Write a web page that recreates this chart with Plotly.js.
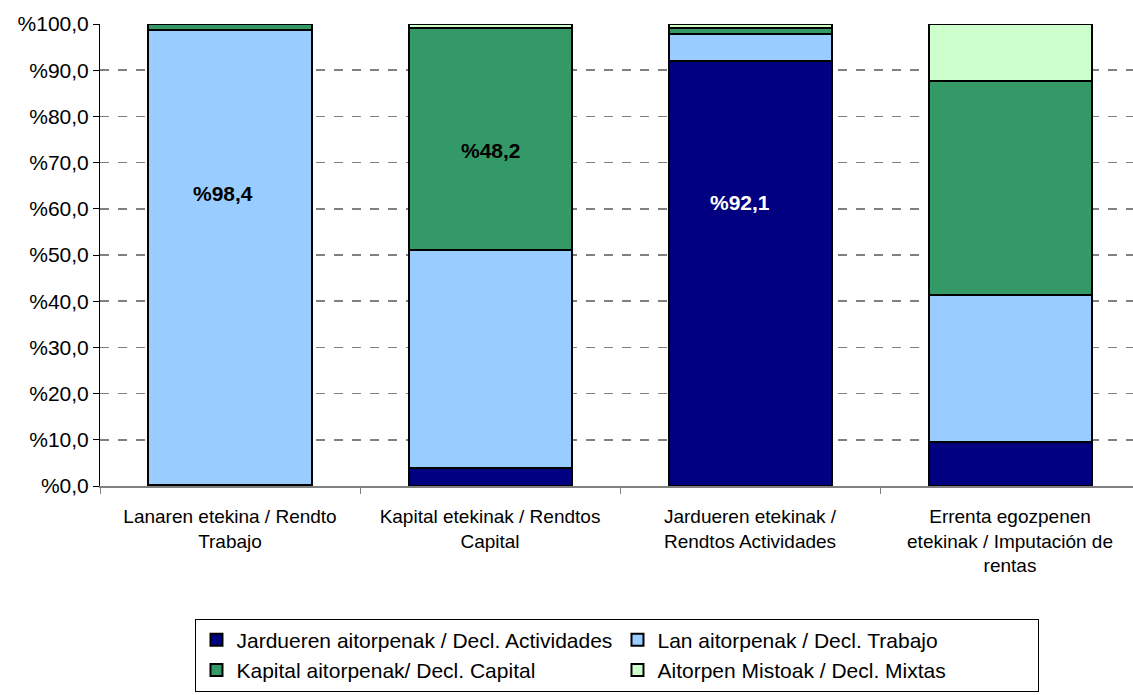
<!DOCTYPE html>
<html>
<head>
<meta charset="utf-8">
<script src="https://cdn.plot.ly/plotly-3.0.1.min.js"></script>
<style>
  html, body { margin: 0; padding: 0; background: #fff; }
  #plot { width: 1133px; height: 695px; }
</style>
</head>
<body>
<div id="plot"></div>
<script>
// Categorías (etiquetas del eje X)
const categories = [
    'Lanaren etekina / Rendto<br>Trabajo',
    'Kapital etekinak / Rendtos<br>Capital',
    'Jardueren etekinak /<br>Rendtos Actividades',
    'Errenta egozpenen<br>etekinak / Imputación de<br>rentas'
];

// Porcentajes por tipo de declaración
const declActividades = [0.3, 3.9, 92.1, 9.6];
const declTrabajo = [98.4, 47.1, 5.7, 31.7];
const declCapital = [1.3, 48.2, 1.3, 46.3];
const declMixtas = [0.0, 0.8, 0.9, 12.4];

const seriesNames = [
    'Jardueren aitorpenak / Decl. Actividades',
    'Lan aitorpenak / Decl. Trabajo',
    'Kapital aitorpenak/ Decl. Capital',
    'Aitorpen Mistoak / Decl. Mixtas'
];

// Etiquetas destacadas dentro de las barras
const labelCats = [0, 1, 2];
const labelValues = [98.4, 48.2, 92.1];

const yTickVals = [0, 10, 20, 30, 40, 50, 60, 70, 80, 90, 100];
const yTickText = yTickVals.map(v => '%' + v.toFixed(1).replace('.', ','));

const FONT = 'Liberation Sans, Arial, sans-serif';
const colors = ['#000080', '#99CCFF', '#339966', '#CCFFCC'];
const seriesValues = [declActividades, declTrabajo, declCapital, declMixtas];

const data = seriesValues.map((vals, i) => ({
    type: 'bar',
    x: categories,
    y: vals,
    name: seriesNames[i],
    marker: { color: colors[i], line: { color: '#000', width: 2 } },
    hoverinfo: 'skip'
}));

// posición aproximada de cada etiqueta como en el original
const labelY = [63.4, 72.7, 61.3];
const labelShift = [-7, 1, -10];
const labelColor = ['#000', '#000', '#fff'];

const annotations = labelCats.map((c, i) => ({
    x: categories[c],
    y: labelY[i],
    xshift: labelShift[i],
    text: '<b>%' + labelValues[i].toFixed(1).replace('.', ',') + '</b>',
    showarrow: false,
    font: { family: FONT, size: 21, color: labelColor[i] }
}));

const layout = {
    width: 1133,
    height: 695,
    margin: { l: 100, r: 0, t: 24, b: 209 },
    paper_bgcolor: '#fff',
    plot_bgcolor: '#fff',
    barmode: 'stack',
    bargap: 0.373,
    font: { family: FONT, size: 19, color: '#000' },
    xaxis: {
        type: 'category',
        range: [-0.5, 3.473],
        showline: true,
        linecolor: '#808080',
        linewidth: 2,
        ticks: 'outside',
        tickson: 'boundaries',
        ticklen: 6,
        tickcolor: '#808080',
        ticklabelstandoff: 12,
        showgrid: false,
        tickfont: { family: FONT, size: 19, color: '#000' }
    },
    yaxis: {
        range: [0, 100],
        tickvals: yTickVals,
        ticktext: yTickText,
        showline: true,
        linecolor: '#000',
        linewidth: 1,
        ticks: 'outside',
        ticklen: 6,
        tickcolor: '#000',
        showgrid: true,
        gridcolor: '#808080',
        griddash: 'dash',
        gridwidth: 1.5,
        zeroline: false,
        tickfont: { family: FONT, size: 21, color: '#000' }
    },
    showlegend: true,
    legend: {
        orientation: 'h',
        xref: 'container',
        yref: 'container',
        x: 0.545,
        xanchor: 'center',
        y: 0.11,
        yanchor: 'top',
        itemwidth: 30,
        entrywidth: 376,
        entrywidthmode: 'pixels',
        traceorder: 'normal',
        bordercolor: '#000',
        borderwidth: 1,
        bgcolor: '#fff',
        font: { family: FONT, size: 21, color: '#000' }
    },
    annotations: annotations
};

Plotly.newPlot('plot', data, layout, { displayModeBar: false, staticPlot: true });
</script>
</body>
</html>
